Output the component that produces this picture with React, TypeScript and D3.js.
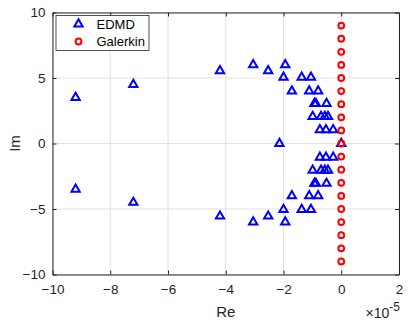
import React from 'react';
import * as d3 from "d3";

// EDMD eigenvalues (real part in units of 1e-5, imaginary part)
const edmdRe = [
    -9.2, -7.2, -4.2, -3.05, -2.53, -1.94, -2.0, -1.37, -1.05, -1.71, -1.11, -0.80,
    -0.93, -0.88, -0.51, -0.99, -0.70, -0.57, -0.46, -0.74, -0.53, -0.28,
    -2.14, 0,
    -0.74, -0.53, -0.28, -0.99, -0.70, -0.57, -0.46, -0.93, -0.88, -0.51,
    -1.71, -1.11, -0.80, -2.0, -1.37, -1.05, -2.53, -3.05, -1.94, -4.2, -7.2, -9.2
];
const edmdIm = [
    3.5, 4.5, 5.55, 6.0, 5.55, 6.0, 5.05, 5.05, 5.05, 4.0, 4.0, 4.0,
    3.05, 3.05, 3.05, 2.05, 2.05, 2.05, 2.05, 1.05, 1.05, 1.05,
    0, 0,
    -1.05, -1.05, -1.05, -2.05, -2.05, -2.05, -2.05, -3.05, -3.05, -3.05,
    -4.0, -4.0, -4.0, -5.05, -5.05, -5.05, -5.55, -6.0, -6.0, -5.55, -4.5, -3.5
];

// Galerkin eigenvalues, all on the imaginary axis
const galerkinRe = [0, 0, 0, 0, 0, 0, 0, 0, 0, 0, 0, 0, 0, 0, 0, 0, 0, 0, 0];
const galerkinIm = [-9, -8, -7, -6, -5, -4, -3, -2, -1, 0, 1, 2, 3, 4, 5, 6, 7, 8, 9];

const xTicks = [-10, -8, -6, -4, -2, 0, 2];
const yTicks = [-10, -5, 0, 5, 10];
const legendLabels = ["EDMD", "Galerkin"];

var margin = { top: 12.5, right: 15, bottom: 55.5, left: 52.5 }
    , width = 414 - margin.left - margin.right
    , height = 330 - margin.top - margin.bottom

const font = "'Liberation Sans', Arial, Helvetica, sans-serif";
const axisColor = "#262626";

export default class App extends React.Component {
    constructor(props) {
        super(props);
        this.myReference = React.createRef();
    }

    componentDidMount() {
        document.body.style.margin = "0";
        this.svg = d3.select(this.myReference.current)
            .append("svg")
            .attr("width", 414)
            .attr("height", 330)
            .style("display", "block")
            .style("background", "#fff")
            .append("g")
            .attr("transform", "translate(" + margin.left + "," + margin.top + ")");
        this.update();
    }

    update() {
        this.svg.selectAll("*").remove();

        const xScale = d3.scaleLinear().domain([-10, 2]).range([0, width]);
        const yScale = d3.scaleLinear().domain([-10, 10]).range([height, 0]);

        // grid
        this.svg.append("g")
            .selectAll("line")
            .data(xTicks)
            .enter().append("line")
            .attr("x1", d => xScale(d)).attr("x2", d => xScale(d))
            .attr("y1", 0).attr("y2", height)
            .attr("stroke", "#e2e2e2").attr("stroke-width", 1);
        this.svg.append("g")
            .selectAll("line")
            .data(yTicks)
            .enter().append("line")
            .attr("y1", d => yScale(d)).attr("y2", d => yScale(d))
            .attr("x1", 0).attr("x2", width)
            .attr("stroke", "#e2e2e2").attr("stroke-width", 1);

        // axes (ticks inward, box on all sides)
        const styleAxis = g => {
            g.select(".domain").attr("stroke", axisColor).attr("stroke-width", 1);
            g.selectAll(".tick line").attr("stroke", axisColor);
            g.selectAll("text").attr("fill", axisColor).style("font", "13.5px " + font);
        };

        this.svg.append("g")
            .attr("transform", "translate(0," + height + ")")
            .call(d3.axisBottom(xScale).tickValues(xTicks).tickSizeInner(-4).tickSizeOuter(0).tickPadding(10).tickFormat(d3.format("d")))
            .call(styleAxis);
        this.svg.append("g")
            .call(d3.axisTop(xScale).tickValues(xTicks).tickSizeInner(-4).tickSizeOuter(0).tickFormat(""))
            .call(styleAxis);
        this.svg.append("g")
            .call(d3.axisLeft(yScale).tickValues(yTicks).tickSizeInner(-4).tickSizeOuter(0).tickPadding(7).tickFormat(d3.format("d")))
            .call(styleAxis);
        this.svg.append("g")
            .attr("transform", "translate(" + width + ",0)")
            .call(d3.axisRight(yScale).tickValues(yTicks).tickSizeInner(-4).tickSizeOuter(0).tickFormat(""))
            .call(styleAxis);

        // EDMD markers
        const tri = d3.symbol().type(d3.symbolTriangle).size(30);
        this.svg.append("g")
            .selectAll("path")
            .data(edmdRe.map((r, i) => [r, edmdIm[i]]))
            .enter().append("path")
            .attr("d", tri)
            .attr("transform", d => "translate(" + xScale(d[0]) + "," + yScale(d[1]) + ")")
            .attr("fill", "none")
            .attr("stroke", "#0000ff")
            .attr("stroke-width", 2);

        // Galerkin markers
        this.svg.append("g")
            .selectAll("circle")
            .data(galerkinRe.map((r, i) => [r, galerkinIm[i]]))
            .enter().append("circle")
            .attr("cx", d => xScale(d[0]))
            .attr("cy", d => yScale(d[1]))
            .attr("r", 2.9)
            .attr("fill", "none")
            .attr("stroke", "#ff0000")
            .attr("stroke-width", 2);

        // legend
        const legend = this.svg.append("g").attr("transform", "translate(3.5,3)");
        legend.append("rect")
            .attr("width", 93).attr("height", 35)
            .attr("fill", "#fff")
            .attr("stroke", axisColor).attr("stroke-width", 0.8);
        legendLabels.forEach((label, i) => {
            const cy = 8.5 + i * 17.5;
            if (i === 0) {
                legend.append("path")
                    .attr("d", tri)
                    .attr("transform", "translate(22.5," + cy + ")")
                    .attr("fill", "none").attr("stroke", "#0000ff").attr("stroke-width", 2);
            } else {
                legend.append("circle")
                    .attr("cx", 22.5).attr("cy", cy).attr("r", 2.9)
                    .attr("fill", "none").attr("stroke", "#ff0000").attr("stroke-width", 2);
            }
            legend.append("text")
                .attr("x", 40.5).attr("y", cy)
                .attr("dy", "0.36em")
                .attr("fill", "#000")
                .style("font", "13px " + font)
                .text(label);
        });

        // axis labels
        this.svg.append("text")
            .attr("text-anchor", "middle")
            .attr("transform", "translate(" + (width / 2) + "," + (height + 42.5) + ")")
            .attr("fill", axisColor)
            .style("font", "15px " + font)
            .text("Re");

        this.svg.append("text")
            .attr("text-anchor", "middle")
            .attr("transform", "translate(" + (-33) + "," + (height / 2) + ")rotate(-90)")
            .attr("fill", axisColor)
            .style("font", "15px " + font)
            .text("Im");

        // exponent
        const expo = this.svg.append("text")
            .attr("text-anchor", "end")
            .attr("transform", "translate(" + (width + 1) + "," + (height + 43.5) + ")")
            .attr("fill", axisColor)
            .style("font", "14px " + font);
        expo.append("tspan").text("\u00d710");
        expo.append("tspan").attr("dy", -7.5).style("font-size", "12px").text("-5");
    }

    render() {
        return (
            <div ref={this.myReference}>
            </div>
        );
    }
}
